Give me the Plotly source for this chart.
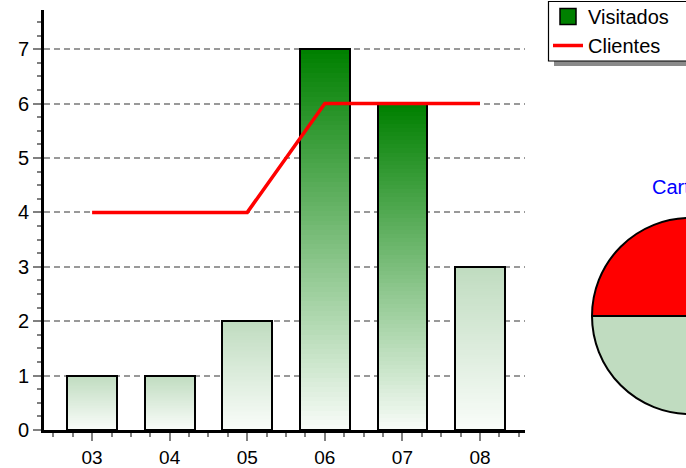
import plotly.graph_objects as go

# ---------------- data ----------------
meses = ["03", "04", "05", "06", "07", "08"]
visitados = [1, 1, 2, 7, 6, 3]
clientes = [4, 4, 4, 6, 6, 6]
pie_labels = ["Clientes", "No clientes"]
pie_values = [1, 1]
pie_title = "Carteras"

# ---------------- style ----------------
W, H = 800, 468
FONT = "Liberation Sans, Arial, sans-serif"
bar_top_colors = [(192, 220, 192), (192, 220, 192), (192, 220, 192),
                  (0, 128, 0), (0, 128, 0), (192, 220, 192)]
bar_bottom = (250, 253, 250)
N_STEPS = 80
BAR_W = 0.64


def mix(top, bottom, f):
    return "rgb(%d,%d,%d)" % tuple(round(b + (t - b) * f) for t, b in zip(top, bottom))


xs = list(range(len(meses)))
fig = go.Figure()

# gradient bars: stacked from full height (top colour) down to thin (white)
for k in range(N_STEPS, 0, -1):
    f = k / N_STEPS
    fig.add_trace(go.Bar(
        x=xs, y=[v * f for v in visitados], width=BAR_W,
        marker=dict(color=[mix(c, bar_bottom, f) for c in bar_top_colors], line=dict(width=0)),
        showlegend=False, hoverinfo="skip"))

# bar outlines
fig.add_trace(go.Bar(
    x=xs, y=visitados, width=BAR_W, name="Visitados",
    marker=dict(color="rgba(0,0,0,0)", line=dict(color="black", width=2)),
    showlegend=False))

# legend stand-in for the bars
fig.add_trace(go.Scatter(
    x=[None], y=[None], mode="markers", name="Visitados",
    marker=dict(symbol="square", size=16, color="#008000", line=dict(color="black", width=1.5))))

fig.add_trace(go.Scatter(
    x=xs, y=clientes, mode="lines", name="Clientes",
    line=dict(color="#ff0000", width=3.5)))

# pie (partially beyond the visible window)
cx, cy, r = 690, 316, 98
fig.add_trace(go.Pie(
    labels=pie_labels, values=pie_values, sort=False, direction="clockwise", rotation=-90,
    marker=dict(colors=["#ff0000", "#c0dcc0"], line=dict(color="black", width=2)),
    textinfo="none", hoverinfo="label+value", showlegend=False,
    domain=dict(x=[(cx - r) / W, (cx + r) / W], y=[1 - (cy + r) / H, 1 - (cy - r) / H])))

fig.add_annotation(x=cx / W, y=1 - 187 / H, xref="paper", yref="paper", text=pie_title,
                   xanchor="center", yanchor="middle",
                   showarrow=False, font=dict(family=FONT, size=20, color="#0000ff"))

# legend frame with drop shadow
fig.add_shape(type="rect", xref="paper", yref="paper", x0=554 / W, x1=1, y0=1 - 66 / H, y1=1 - 6 / H,
              fillcolor="#8a8a8a", line=dict(width=0), layer="above")
fig.add_shape(type="rect", xref="paper", yref="paper", x0=548.5 / W, x1=1.2, y0=1 - 61 / H, y1=1 - 1.5 / H,
              fillcolor="white", line=dict(color="black", width=1.2), layer="above")

fig.update_layout(
    width=W, height=H, margin=dict(l=0, r=0, t=0, b=0, autoexpand=False),
    paper_bgcolor="white", plot_bgcolor="white",
    barmode="overlay", bargap=0,
    font=dict(family=FONT, size=20, color="black"),
    legend=dict(x=548 / W, y=1 + 3 / H, xanchor="left", yanchor="top",
                bgcolor="rgba(0,0,0,0)", borderwidth=0, font=dict(family=FONT, size=20),
                tracegroupgap=0),
    xaxis=dict(domain=[44 / W, 525 / W], range=[-0.62, 5.58], tickmode="array",
               tickvals=xs, ticktext=meses, ticks="outside", ticklen=8, tickwidth=1.5,
               tickcolor="#808080", showline=True, linecolor="black", linewidth=3,
               showgrid=False, zeroline=False, automargin=False, tickfont=dict(size=19),
               minor=dict(dtick=0.25, tick0=0, ticks="outside", ticklen=4, tickwidth=1.5,
                          tickcolor="#808080", showgrid=False)),
    yaxis=dict(domain=[1 - 430 / H, 1 - 10 / H], range=[0, 7.72], tick0=0, dtick=1,
               ticks="outside", ticklen=8, tickwidth=1.5, tickcolor="#808080",
               showline=True, linecolor="black", linewidth=3, zeroline=False,
               showgrid=True, gridcolor="#999999", gridwidth=1.5, griddash="6px,4px",
               automargin=False,
               minor=dict(dtick=0.25, tick0=0, ticks="outside", ticklen=4, tickwidth=1.5,
                          tickcolor="#808080", showgrid=False)),
)

fig.write_html("out.html", config={"displayModeBar": False},
               post_script="document.body.style.margin='0';document.body.style.overflow='hidden';")
